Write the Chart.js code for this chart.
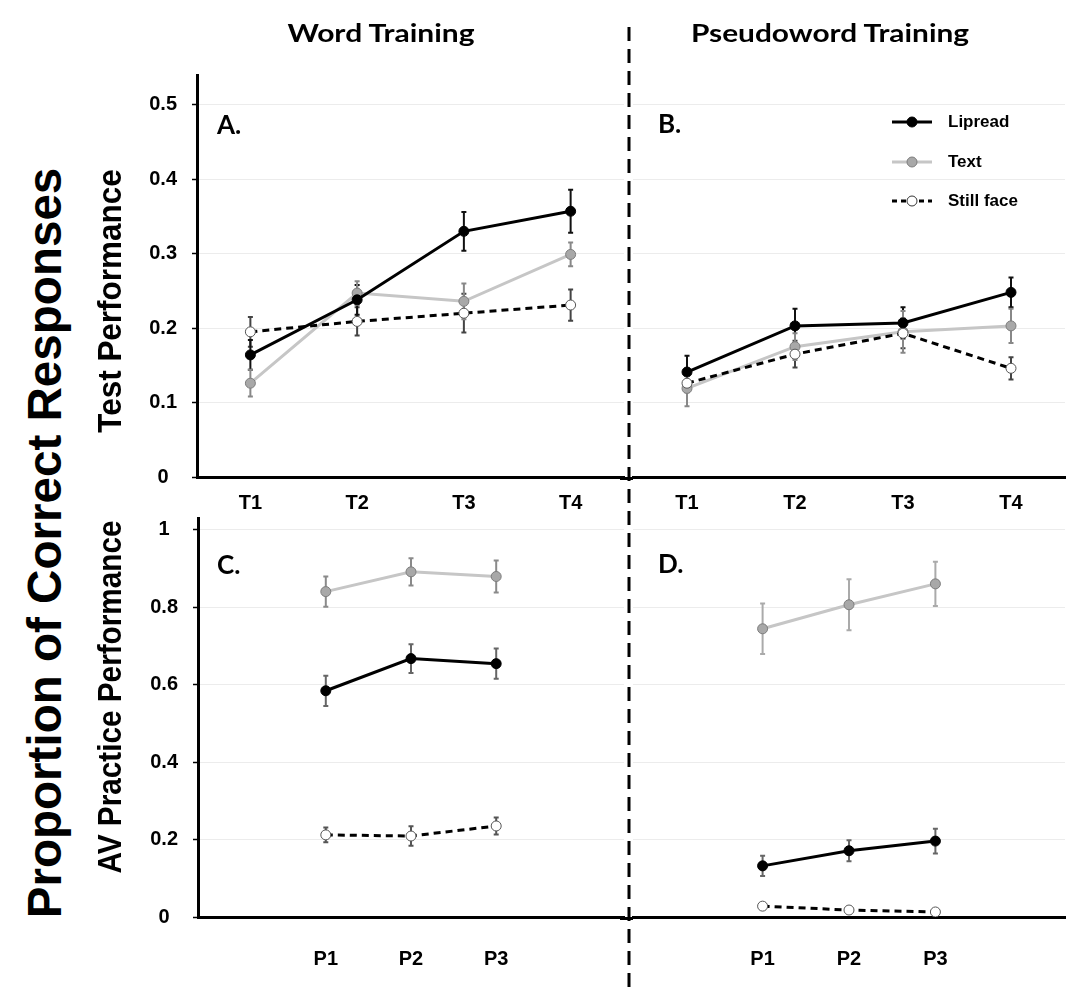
<!DOCTYPE html>
<html>
<head>
<meta charset="utf-8">
<script src="https://cdn.jsdelivr.net/npm/chart.js@4.4.0/dist/chart.umd.min.js"></script>
<style>
  body { margin: 0; background: #fff; }
  #fig { position: relative; width: 1071px; height: 990px; overflow: hidden; }
  .panel { position: absolute; }
  .txt { position: absolute; white-space: nowrap; font-weight: bold; color: #000; line-height: 1; }
  .arial { font-family: "Liberation Sans", Arial, sans-serif; }
  .cal { font-family: Lato, "Open Sans", sans-serif; }
  .legend-row { position: absolute; left: 890px; height: 20px; display: flex; align-items: center; }
  .legend-row span { font: bold 17px "Liberation Sans", Arial, sans-serif; margin-left: 14px; }
</style>
</head>
<body>
<div id="fig">
  <svg width="1071" height="990" style="position:absolute;left:0;top:0">
    <line x1="629" y1="27" x2="629" y2="990" stroke="#000" stroke-width="3" stroke-dasharray="14 8"/>
  </svg>

  <div class="panel" style="left:100px;top:45px"><canvas id="chartA" width="530" height="470"></canvas></div>
  <div class="panel" style="left:620px;top:45px"><canvas id="chartB" width="451" height="470"></canvas></div>
  <div class="panel" style="left:100px;top:488px"><canvas id="chartC" width="530" height="502"></canvas></div>
  <div class="panel" style="left:620px;top:488px"><canvas id="chartD" width="451" height="502"></canvas></div>

  <div class="txt cal fit" data-w="187" style="left:381px;top:32px;font-size:25px">Word Training</div>
  <div class="txt cal fit" data-w="278" style="left:830px;top:32px;font-size:25px">Pseudoword Training</div>

  <div class="txt arial fit rot" data-w="750" style="left:45px;top:543px;font-size:48px">Proportion of Correct Responses</div>
  <div class="txt arial fit rot" data-w="263" style="left:109px;top:301px;font-size:33px">Test Performance</div>
  <div class="txt arial fit rot" data-w="353" style="left:109px;top:697px;font-size:33px">AV Practice Performance</div>

  <div class="txt cal" style="left:217px;top:111px;font-size:26px">A.</div>
  <div class="txt cal" style="left:658px;top:110px;font-size:26px">B.</div>
  <div class="txt cal" style="left:217px;top:551px;font-size:26px">C.</div>
  <div class="txt cal" style="left:658px;top:550px;font-size:26px">D.</div>

  <div id="legend"></div>
</div>

<script>
// ------------------------------------------------------------
//  DADOS
// ------------------------------------------------------------
const testLabels = ['T1', 'T2', 'T3', 'T4'];
const practiceLabels = ['', 'P1', 'P2', 'P3', ''];
const testTicks = [0, 0.1, 0.2, 0.3, 0.4, 0.5];
const practiceTicks = [0, 0.2, 0.4, 0.6, 0.8, 1];
const seriesNames = ['Lipread', 'Text', 'Still face'];

// A. Word training - test
const wordTestLipread = [0.164, 0.238, 0.330, 0.357];
const wordTestLipreadErr = [0.020, 0.020, 0.026, 0.029];
const wordTestText = [0.126, 0.247, 0.236, 0.299];
const wordTestTextErr = [0.018, 0.016, 0.024, 0.016];
const wordTestStill = [0.195, 0.209, 0.220, 0.231];
const wordTestStillErr = [0.020, 0.019, 0.026, 0.021];

// B. Pseudoword training - test
const pseudoTestLipread = [0.141, 0.203, 0.207, 0.248];
const pseudoTestLipreadErr = [0.022, 0.023, 0.021, 0.020];
const pseudoTestText = [0.119, 0.175, 0.195, 0.203];
const pseudoTestTextErr = [0.024, 0.018, 0.028, 0.023];
const pseudoTestStill = [0.126, 0.165, 0.193, 0.146];
const pseudoTestStillErr = [0.012, 0.018, 0.020, 0.015];

// C. Word training - AV practice
const wordPracLipread = [null, 0.584, 0.667, 0.654, null];
const wordPracLipreadErr = [null, 0.039, 0.037, 0.039, null];
const wordPracText = [null, 0.840, 0.891, 0.879, null];
const wordPracTextErr = [null, 0.039, 0.035, 0.041, null];
const wordPracStill = [null, 0.212, 0.209, 0.235, null];
const wordPracStillErr = [null, 0.019, 0.025, 0.022, null];

// D. Pseudoword training - AV practice
const pseudoPracLipread = [null, 0.132, 0.171, 0.196, null];
const pseudoPracLipreadErr = [null, 0.026, 0.027, 0.032, null];
const pseudoPracText = [null, 0.744, 0.806, 0.860, null];
const pseudoPracTextErr = [null, 0.065, 0.066, 0.057, null];
const pseudoPracStill = [null, 0.028, 0.018, 0.013, null];
const pseudoPracStillErr = [null, 0, 0, 0, null];

// ------------------------------------------------------------
//  ESTILOS
// ------------------------------------------------------------
const FONT = '"Liberation Sans", Arial, sans-serif';

function makeDatasets(lip, lipErr, text, textErr, still, stillErr, errCols) {
    return [
        {
            label: seriesNames[2], data: still, errors: stillErr, errorColor: errCols[2], order: 0,
            borderColor: '#000', borderWidth: 3, borderDash: [7, 5],
            pointBackgroundColor: '#fff', pointBorderColor: '#555', pointBorderWidth: 1, pointRadius: 5
        },
        {
            label: seriesNames[0], data: lip, errors: lipErr, errorColor: errCols[0], order: 1,
            borderColor: '#000', borderWidth: 3,
            pointBackgroundColor: '#000', pointBorderColor: '#000', pointBorderWidth: 1, pointRadius: 5
        },
        {
            label: seriesNames[1], data: text, errors: textErr, errorColor: errCols[1], order: 2,
            borderColor: '#c6c6c6', borderWidth: 3,
            pointBackgroundColor: '#a8a8a8', pointBorderColor: '#7d7d7d', pointBorderWidth: 1, pointRadius: 5
        }
    ];
}

// barras de erro
const errorBarPlugin = {
    id: 'errorBars',
    beforeDatasetsDraw(chart) {
        const ctx = chart.ctx;
        const yScale = chart.scales.y;
        chart.data.datasets.forEach((ds, i) => {
            const meta = chart.getDatasetMeta(i);
            ctx.save();
            ctx.strokeStyle = ds.errorColor;
            ctx.lineWidth = 2;
            meta.data.forEach((pt, j) => {
                const v = ds.data[j], e = ds.errors[j];
                if (v == null || !e) return;
                const x = pt.x;
                const y1 = yScale.getPixelForValue(v + e);
                const y2 = yScale.getPixelForValue(v - e);
                ctx.beginPath();
                ctx.moveTo(x, y1); ctx.lineTo(x, y2);
                ctx.moveTo(x - 2.5, y1); ctx.lineTo(x + 2.5, y1);
                ctx.moveTo(x - 2.5, y2); ctx.lineTo(x + 2.5, y2);
                ctx.stroke();
            });
            ctx.restore();
        });
    }
};

// prolonga o eixo x para a esquerda (painéis B e D, até a linha tracejada)
const axisExtendPlugin = {
    id: 'axisExtend',
    afterDraw(chart, args, opts) {
        if (!opts.left) return;
        const ctx = chart.ctx;
        const area = chart.chartArea;
        ctx.save();
        ctx.strokeStyle = '#000';
        ctx.lineWidth = 3;
        ctx.beginPath();
        ctx.moveTo(area.left - opts.left, area.bottom + 1.5);
        ctx.lineTo(area.left, area.bottom + 1.5);
        ctx.stroke();
        ctx.restore();
    }
};

function makeChart(id, labels, datasets, yTicks, yMax, o) {
    return new Chart(document.getElementById(id), {
        type: 'line',
        data: { labels: labels, datasets: datasets },
        plugins: [errorBarPlugin, axisExtendPlugin],
        options: {
            responsive: false,
            animation: false,
            layout: { padding: { top: 30, right: o.padRight, left: 0, bottom: 0 } },
            plugins: {
                legend: { display: false },
                tooltip: { enabled: false },
                axisExtend: { left: o.extend }
            },
            elements: { line: { tension: 0 } },
            scales: {
                x: {
                    type: 'category',
                    offset: true,
                    grid: { display: false, drawTicks: false },
                    border: { display: true, color: '#000', width: 3 },
                    ticks: {
                        color: '#000', padding: o.xPad, autoSkip: false, maxRotation: 0,
                        font: { family: FONT, size: 20, weight: 'bold' }
                    },
                    afterFit: s => { s.height = o.xH; }
                },
                y: {
                    min: 0,
                    max: yMax,
                    afterBuildTicks: s => { s.ticks = yTicks.map(v => ({ value: v })); },
                    grid: {
                        color: '#ececec', lineWidth: 1,
                        drawTicks: o.showAxis, tickLength: 5, tickColor: '#000', tickWidth: 1.5
                    },
                    border: { display: o.showAxis, color: '#000', width: 3 },
                    ticks: {
                        display: o.showAxis, crossAlign: 'center', padding: 15, color: '#000',
                        font: { family: FONT, size: 20, weight: 'bold' },
                        callback: v => String(v)
                    },
                    afterFit: s => { s.width = o.yW; }
                }
            }
        }
    });
}

const errA = ['#111', '#888', '#444'];
const errC = ['#666', '#8a8a8a', '#555'];
const errD = ['#666', '#aaa', '#555'];

makeChart('chartA', testLabels,
    makeDatasets(wordTestLipread, wordTestLipreadErr, wordTestText, wordTestTextErr, wordTestStill, wordTestStillErr, errA),
    testTicks, 0.54, { padRight: 0, xPad: 14, xH: 38, yW: 97, showAxis: true, extend: 0 });

makeChart('chartB', testLabels,
    makeDatasets(pseudoTestLipread, pseudoTestLipreadErr, pseudoTestText, pseudoTestTextErr, pseudoTestStill, pseudoTestStillErr, errA),
    testTicks, 0.54, { padRight: 5, xPad: 14, xH: 38, yW: 13, showAxis: false, extend: 13 });

makeChart('chartC', practiceLabels,
    makeDatasets(wordPracLipread, wordPracLipreadErr, wordPracText, wordPracTextErr, wordPracStill, wordPracStillErr, errC),
    practiceTicks, 1.03, { padRight: 0, xPad: 30, xH: 73, yW: 98, showAxis: true, extend: 0 });

makeChart('chartD', practiceLabels,
    makeDatasets(pseudoPracLipread, pseudoPracLipreadErr, pseudoPracText, pseudoPracTextErr, pseudoPracStill, pseudoPracStillErr, errD),
    practiceTicks, 1.03, { padRight: 5, xPad: 30, xH: 73, yW: 13, showAxis: false, extend: 13 });

// ------------------------------------------------------------
//  LEGENDA
// ------------------------------------------------------------
const legendRows = [
    { name: seriesNames[0], y: 122, stroke: '#000', dash: '', fill: '#000', pstroke: '#000' },
    { name: seriesNames[1], y: 162, stroke: '#c6c6c6', dash: '', fill: '#a8a8a8', pstroke: '#7d7d7d' },
    { name: seriesNames[2], y: 201, stroke: '#000', dash: '5 4', fill: '#fff', pstroke: '#333' }
];
document.getElementById('legend').innerHTML = legendRows.map(r => `
    <div class="legend-row" style="top:${r.y - 10}px">
      <svg width="44" height="20"><line x1="2" y1="10" x2="42" y2="10" stroke="${r.stroke}" stroke-width="3" stroke-dasharray="${r.dash}"/>
      <circle cx="22" cy="10" r="5" fill="${r.fill}" stroke="${r.pstroke}" stroke-width="1"/></svg>
      <span>${r.name}</span>
    </div>`).join('');

// ------------------------------------------------------------
//  TEXTOS (ajuste de largura)
// ------------------------------------------------------------
document.querySelectorAll('.txt').forEach(el => {
    let t = 'translate(-50%,-50%)';
    if (el.classList.contains('rot')) t += ' rotate(-90deg)';
    if (el.classList.contains('fit')) {
        const s = parseFloat(el.dataset.w) / el.offsetWidth;
        t += ` scaleX(${s.toFixed(3)})`;
    }
    if (el.classList.contains('fit') || el.classList.contains('rot')) el.style.transform = t;
});
</script>
</body>
</html>
